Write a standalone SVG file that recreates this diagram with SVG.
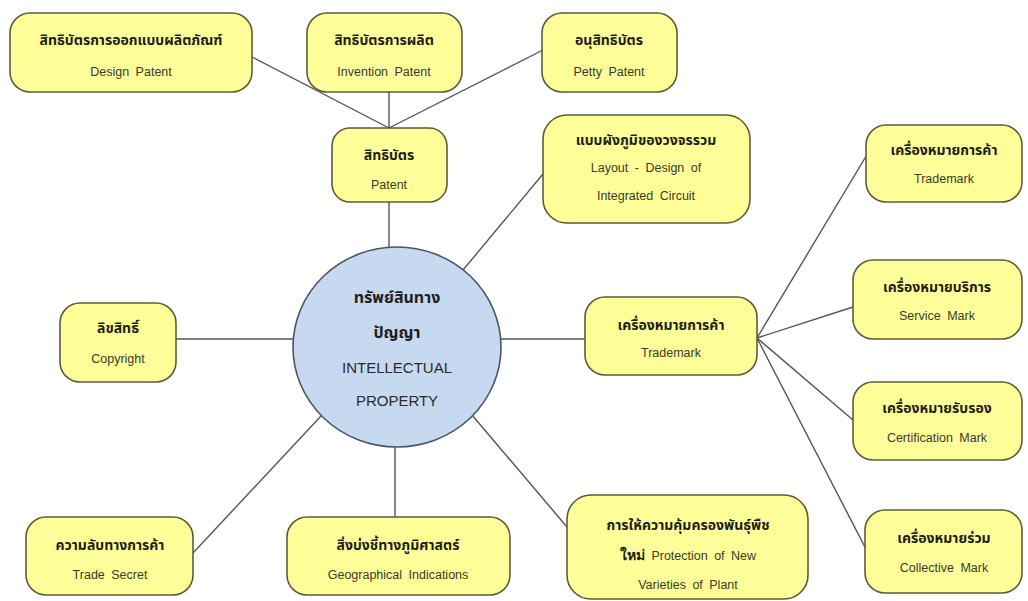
<svg xmlns="http://www.w3.org/2000/svg" width="1028" height="601" viewBox="0 0 1028 601">
<style>
.box{fill:#ffff99;stroke:#5c5c3a;stroke-width:1.6}
.hub{fill:#c6d9f0;stroke:#4a5560;stroke-width:1.6}
.th{font-family:"Liberation Sans","Noto Sans","Noto Sans Thai",sans-serif;font-weight:bold;font-size:14px;fill:#1e1e14;text-anchor:middle}
.en{font-family:"Liberation Sans",Arial,sans-serif;font-size:12.5px;fill:#3a3a28;text-anchor:middle;word-spacing:3px}
.thb{font-family:"Liberation Sans","Noto Sans","Noto Sans Thai",sans-serif;font-weight:bold;font-size:16px;fill:#1e1e1e;text-anchor:middle}
.enb{font-family:"Liberation Sans",Arial,sans-serif;font-size:15px;fill:#2a2a2a;text-anchor:middle}
.ln{stroke:#555;stroke-width:1.4;fill:none}
</style>
<rect width="1028" height="601" fill="#ffffff"/>
<g id="connectors">
<line class="ln" x1="252" y1="57" x2="389" y2="128"/>
<line class="ln" x1="389" y1="92" x2="389" y2="128"/>
<line class="ln" x1="543" y1="50" x2="389" y2="128"/>
<line class="ln" x1="389" y1="202" x2="389" y2="248"/>
<line class="ln" x1="543" y1="174" x2="463" y2="270"/>
<line class="ln" x1="176" y1="339" x2="294" y2="339"/>
<line class="ln" x1="500" y1="339" x2="585" y2="339"/>
<line class="ln" x1="757" y1="338" x2="868" y2="153"/>
<line class="ln" x1="757" y1="338" x2="853" y2="307"/>
<line class="ln" x1="757" y1="338" x2="853" y2="420"/>
<line class="ln" x1="757" y1="338" x2="868" y2="553"/>
<line class="ln" x1="321" y1="416" x2="193" y2="553"/>
<line class="ln" x1="395" y1="446" x2="395" y2="517"/>
<line class="ln" x1="472" y1="415" x2="567" y2="527"/>
</g>
<g id="design-patent">
<rect class="box" x="10" y="13" width="242" height="79" rx="20"/>
<text class="th" x="131" y="45">สิทธิบัตรการออกแบบผลิตภัณฑ์</text>
<text class="en" x="131" y="76">Design Patent</text>
</g>
<g id="invention-patent">
<rect class="box" x="307" y="13" width="155" height="79" rx="20"/>
<text class="th" x="384" y="45">สิทธิบัตรการผลิต</text>
<text class="en" x="384" y="76">Invention Patent</text>
</g>
<g id="petty-patent">
<rect class="box" x="542" y="13" width="135" height="79" rx="20"/>
<text class="th" x="609" y="45">อนุสิทธิบัตร</text>
<text class="en" x="609" y="76">Petty Patent</text>
</g>
<g id="patent">
<rect class="box" x="332" y="128" width="115" height="74" rx="18"/>
<text class="th" x="389" y="160">สิทธิบัตร</text>
<text class="en" x="389" y="189">Patent</text>
</g>
<g id="layout-design">
<rect class="box" x="543" y="115" width="207" height="108" rx="24"/>
<text class="th" x="646" y="145">แบบผังภูมิของวงจรรวม</text>
<text class="en" x="646" y="172">Layout - Design of</text>
<text class="en" x="646" y="200">Integrated Circuit</text>
</g>
<g id="trademark-top">
<rect class="box" x="866" y="125" width="156" height="77" rx="20"/>
<text class="th" x="944" y="155">เครื่องหมายการค้า</text>
<text class="en" x="944" y="183">Trademark</text>
</g>
<g id="service-mark">
<rect class="box" x="853" y="260" width="169" height="79" rx="20"/>
<text class="th" x="937" y="292">เครื่องหมายบริการ</text>
<text class="en" x="937" y="320">Service Mark</text>
</g>
<g id="certification-mark">
<rect class="box" x="853" y="382" width="169" height="78" rx="20"/>
<text class="th" x="937" y="413">เครื่องหมายรับรอง</text>
<text class="en" x="937" y="442">Certification Mark</text>
</g>
<g id="collective-mark">
<rect class="box" x="865" y="510" width="157" height="83" rx="20"/>
<text class="th" x="944" y="543">เครื่องหมายร่วม</text>
<text class="en" x="944" y="572">Collective Mark</text>
</g>
<g id="trademark">
<rect class="box" x="585" y="297" width="172" height="78" rx="20"/>
<text class="th" x="671" y="330">เครื่องหมายการค้า</text>
<text class="en" x="671" y="357">Trademark</text>
</g>
<g id="copyright">
<rect class="box" x="60" y="303" width="116" height="79" rx="20"/>
<text class="th" x="118" y="333">ลิขสิทธิ์</text>
<text class="en" x="118" y="363">Copyright</text>
</g>
<g id="intellectual-property">
<ellipse class="hub" cx="397" cy="347" rx="104" ry="100"/>
<text class="thb" x="397" y="303">ทรัพย์สินทาง</text>
<text class="thb" x="397" y="338">ปัญญา</text>
<text class="enb" x="397" y="373">INTELLECTUAL</text>
<text class="enb" x="397" y="406">PROPERTY</text>
</g>
<g id="trade-secret">
<rect class="box" x="26" y="517" width="167" height="78" rx="20"/>
<text class="th" x="110" y="550">ความลับทางการค้า</text>
<text class="en" x="110" y="579">Trade Secret</text>
</g>
<g id="geographical-indications">
<rect class="box" x="287" y="517" width="223" height="78" rx="20"/>
<text class="th" x="398" y="550">สิ่งบ่งชี้ทางภูมิศาสตร์</text>
<text class="en" x="398" y="579">Geographical Indications</text>
</g>
<g id="plant-varieties">
<rect class="box" x="567" y="495" width="241" height="104" rx="24"/>
<text class="th" x="688" y="530">การให้ความคุ้มครองพันธุ์พืช</text>
<text class="en" x="688" y="560"><tspan font-family="Liberation Sans,Noto Sans,sans-serif" font-weight="bold" font-size="14" fill="#1e1e14">ใหม่</tspan>   Protection of New</text>
<text class="en" x="688" y="589">Varieties of Plant</text>
</g>
</svg>
